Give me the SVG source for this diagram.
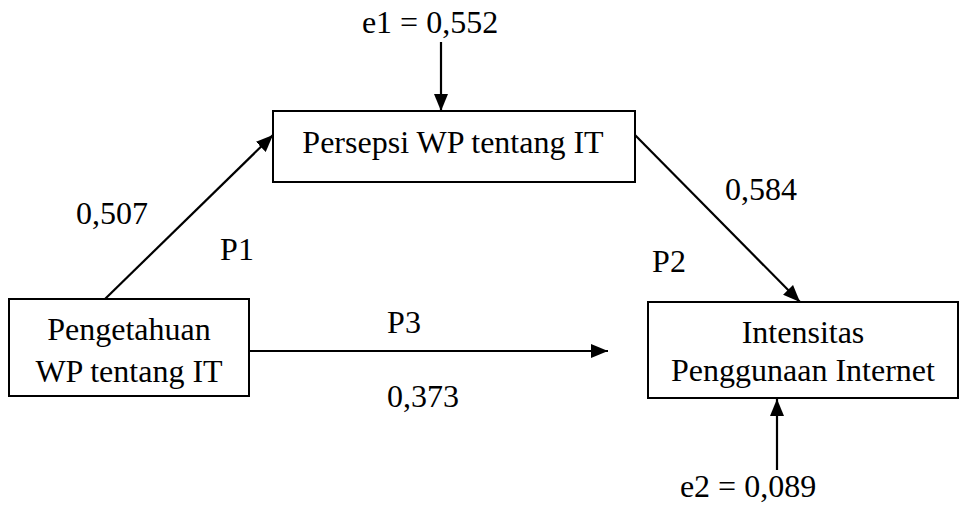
<svg xmlns="http://www.w3.org/2000/svg" width="960" height="510" viewBox="0 0 960 510" font-family="'Liberation Serif', 'Times New Roman', serif">
<style>
text{font-family:'Liberation Serif','Times New Roman',serif;font-size:32px;fill:#000;text-anchor:middle}
.box{fill:#fff;stroke:#000;stroke-width:2}
.c line{stroke:#000;stroke-width:2.2;fill:none}
</style>
<defs>
<marker id="ah" markerUnits="userSpaceOnUse" markerWidth="18" markerHeight="14" refX="17" refY="7" orient="auto">
<path d="M0,0 L17,7 L0,14 Z" fill="#000"/>
</marker>
</defs>
<rect width="960" height="510" fill="#fff"/>
<g class="c" id="connectors">
<line x1="441" y1="42" x2="441" y2="111" marker-end="url(#ah)"/>
<line x1="105" y1="299" x2="273" y2="135" marker-end="url(#ah)"/>
<line x1="634" y1="134" x2="800" y2="302" marker-end="url(#ah)"/>
<line x1="249" y1="351" x2="608" y2="351" marker-end="url(#ah)"/>
<line x1="777" y1="470" x2="777" y2="399" marker-end="url(#ah)"/>
</g>
<g id="persepsi">
<rect class="box" x="273" y="111" width="362" height="71"/>
<text x="453" y="153">Persepsi WP tentang IT</text>
</g>
<g id="pengetahuan">
<rect class="box" x="9" y="299" width="240" height="97"/>
<text x="129" y="340">Pengetahuan</text>
<text x="129" y="382">WP tentang IT</text>
</g>
<g id="intensitas">
<rect class="box" x="648" y="302" width="310" height="96"/>
<text x="803" y="343">Intensitas</text>
<text x="803" y="381">Penggunaan Internet</text>
</g>
<g id="labels">
<text x="430" y="33">e1 = 0,552</text>
<text x="748" y="497">e2 = 0,089</text>
<text x="112" y="224">0,507</text>
<text x="237" y="260">P1</text>
<text x="761" y="200">0,584</text>
<text x="669" y="272">P2</text>
<text x="404" y="333">P3</text>
<text x="423" y="407">0,373</text>
</g>
</svg>
